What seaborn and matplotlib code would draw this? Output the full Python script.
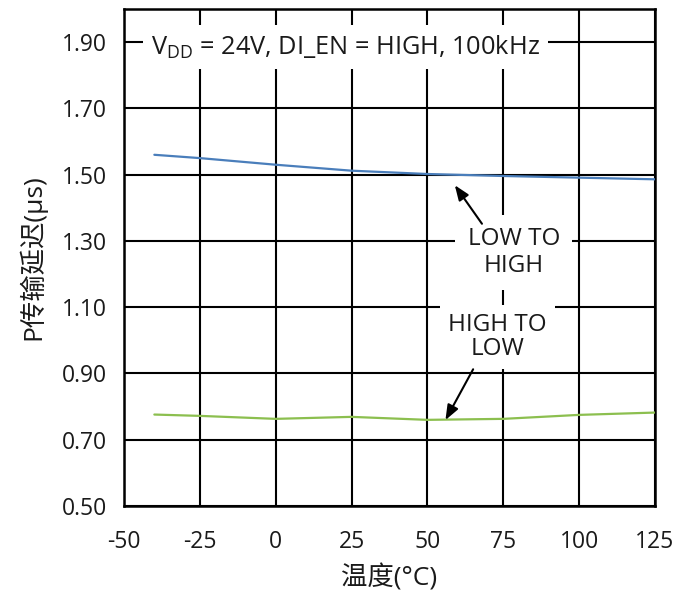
import matplotlib
matplotlib.use("Agg")
import matplotlib.pyplot as plt
import seaborn as sns
import pandas as pd

temps = [-40, -25, 0, 25, 50, 75, 100, 125]
low_to_high = [1.560, 1.550, 1.530, 1.512, 1.502, 1.496, 1.491, 1.486]
high_to_low = [0.776, 0.772, 0.763, 0.769, 0.760, 0.763, 0.775, 0.782]
x_ticks = [-50, -25, 0, 25, 50, 75, 100, 125]
y_ticks = [0.50, 0.70, 0.90, 1.10, 1.30, 1.50, 1.70, 1.90]

sns.set_style("white")
plt.rcParams['font.family'] = ['Open Sans', 'Noto Sans CJK SC', 'DejaVu Sans']
plt.rcParams['mathtext.fontset'] = 'custom'
plt.rcParams['mathtext.rm'] = 'Open Sans'

df = pd.DataFrame({
    "temp": temps * 2,
    "delay": low_to_high + high_to_low,
    "series": ["LOW TO HIGH"] * len(temps) + ["HIGH TO LOW"] * len(temps),
})

fig = plt.figure(figsize=(6.9, 5.91), dpi=100)
ax = fig.add_axes([124/690, 1 - 506/591, 531/690, 497/591])

sns.lineplot(data=df, x="temp", y="delay", hue="series",
             palette={"LOW TO HIGH": "#4a7ebb", "HIGH TO LOW": "#8cbf4f"},
             linewidth=1.6, legend=False, ax=ax, zorder=3)

ax.set_xlim(-50, 125)
ax.set_ylim(0.5, 2.0)
ax.set_xticks(x_ticks)
ax.set_xticklabels([str(t) for t in x_ticks])
ax.set_yticks(y_ticks)
ax.set_yticklabels([f"{v:.2f}" for v in y_ticks])
ax.tick_params(axis='both', length=0, labelsize=16.5, colors='#1a1a1a')
ax.tick_params(axis='x', pad=17)
ax.tick_params(axis='y', pad=12)
ax.grid(True, color='black', linewidth=1.5)
ax.set_axisbelow(True)
for s in ax.spines.values():
    s.set_color('black')
    s.set_linewidth(1.8)

ax.set_xlabel("温度(°C)", fontsize=19, color='#1a1a1a', labelpad=8)
ax.set_ylabel("P传输延迟(μs)", fontsize=19, color='#1a1a1a', labelpad=11)

ax.text(23, 1.885, r"V$_{\mathrm{DD}}$ = 24V, DI_EN = HIGH, 100kHz", fontsize=18.3,
        ha='center', va='center', color='#1a1a1a',
        bbox=dict(facecolor='white', edgecolor='none', pad=6), zorder=4)
ax.text(78.5, 1.265, "LOW TO\nHIGH", fontsize=17.5, ha='center', va='center',
        color='#1a1a1a', linespacing=1.15,
        bbox=dict(facecolor='white', edgecolor='none', pad=9), zorder=4)
ax.text(73, 1.01, "HIGH TO\nLOW", fontsize=17.5, ha='center', va='center',
        color='#1a1a1a', linespacing=0.95,
        bbox=dict(facecolor='white', edgecolor='none', pad=6), zorder=4)

arrow = dict(arrowstyle='-|>,head_length=0.9,head_width=0.35', color='black', lw=1.5)
ax.annotate("", xy=(58.5, 1.475), xytext=(68.5, 1.345), arrowprops=arrow, zorder=5)
ax.annotate("", xy=(55.5, 0.752), xytext=(65.5, 0.92), arrowprops=arrow, zorder=5)

fig.savefig("out.png", dpi=100)
